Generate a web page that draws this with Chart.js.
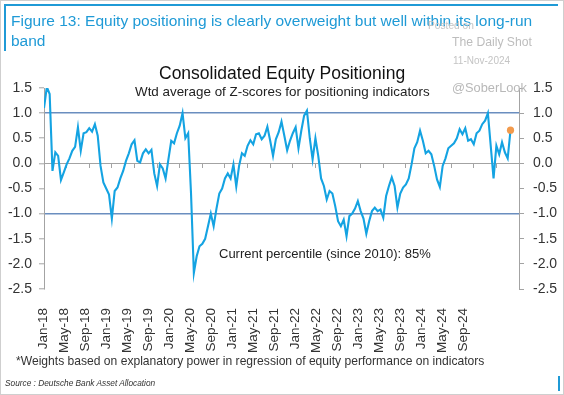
<!DOCTYPE html>
<html>
<head>
<meta charset="utf-8">
<script src="https://cdn.jsdelivr.net/npm/chart.js@4.4.1/dist/chart.umd.min.js"></script>
<style>
  body { margin: 0; background: #fff; }
  #wrap { position: relative; width: 564px; height: 395px; overflow: hidden; font-family: "Liberation Sans", Arial, sans-serif; }
  #wrap canvas { position: absolute; left: 0; top: 0; }
  .t { position: absolute; white-space: nowrap; }
  .frame { position: absolute; left: 0; top: 0; width: 564px; height: 395px; box-sizing: border-box; border: 1px solid #cfcfcf; pointer-events: none; }
</style>
</head>
<body>
<div id="wrap">
  <canvas id="chart" width="564" height="395"></canvas>
  <div class="frame"></div>
  <div style="position:absolute;left:5px;top:4px;width:553px;height:2px;background:#1f9ad6"></div>
  <div style="position:absolute;left:4px;top:4px;width:2px;height:47px;background:#1f9ad6"></div>
  <div style="position:absolute;left:558px;top:376px;width:2px;height:15px;background:#1f9ad6"></div>

  <div class="t" style="left:11px;top:11px;font-size:15.5px;line-height:20px;color:#1f9ad6">Figure 13: Equity positioning is clearly overweight but well within its long-run<br>band</div>

  <div class="t" style="left:428px;top:20px;font-size:10.2px;color:#c4c4c4">Posted on</div>
  <div class="t" style="left:452px;top:35px;font-size:12.2px;color:#bdbdbd">The Daily Shot</div>
  <div class="t" style="left:453px;top:55px;font-size:10px;color:#c4c4c4">11-Nov-2024</div>
  <div class="t" style="left:452px;top:80px;font-size:12.8px;color:#b8b8b8">@SoberLook</div>

  <div class="t" style="left:159px;top:63px;font-size:17.5px;line-height:20px;color:#111">Consolidated Equity Positioning</div>
  <div class="t" style="left:135px;top:84px;font-size:13.4px;line-height:16px;color:#222">Wtd average of Z-scores for positioning indicators</div>
  <div class="t" style="left:219px;top:246px;font-size:13px;line-height:16px;color:#222">Current percentile (since 2010): 85%</div>

  <div class="t" style="left:16px;top:353px;font-size:12.1px;line-height:16px;color:#333">*Weights based on explanatory power in regression of equity performance on indicators</div>
  <div class="t" style="left:5px;top:378px;font-size:8.3px;line-height:10px;font-style:italic;color:#333">Source : Deutsche Bank Asset Allocation</div>
</div>

<script>
// x tick labels, one every 4 months from Jan-18
const tickLabels = ['Jan-18', 'May-18', 'Sep-18', 'Jan-19', 'May-19', 'Sep-19', 'Jan-20', 'May-20', 'Sep-20',
    'Jan-21', 'May-21', 'Sep-21', 'Jan-22', 'May-22', 'Sep-22', 'Jan-23', 'May-23', 'Sep-23',
    'Jan-24', 'May-24', 'Sep-24'];

// consolidated positioning z-score (Jan-18 .. mid Nov-24)
const positioning = [
    1.10, 1.52, 1.38, -0.15, 0.22, 0.15, -0.33, -0.18, -0.02, 0.10, 0.25, 0.33,   // 2018 H1
    0.72, 0.25, 0.60, 0.62, 0.70, 0.63, 0.78, 0.55, -0.05, -0.38, -0.50, -0.62,   // 2018 H2
    -1.10, -0.55, -0.48, -0.30, -0.15, 0.05, 0.20, 0.38, 0.46, 0.05, 0.02, 0.20,  // 2019 H1
    0.28, 0.20, 0.27, -0.20, -0.45, -0.02, -0.10, -0.30, 0.08, 0.45, 0.40, 0.60,  // 2019 H2
    0.75, 1.00, 0.50, 0.60, -0.60, -2.18, -1.85, -1.65, -1.60, -1.50, -1.25, -1.00, // 2020 H1
    -1.25, -0.90, -0.60, -0.50, -0.30, -0.20, -0.30, -0.02, -0.46, -0.05, 0.20, 0.15, // 2020 H2
    0.35, 0.46, 0.38, 0.58, 0.60, 0.48, 0.55, 0.73, 0.45, 0.15, 0.48, 0.62,       // 2021 H1
    0.83, 0.55, 0.26, 0.45, 0.60, 0.72, 0.30, 0.65, 0.95, 1.05, 0.50, 0.08,       // 2021 H2
    0.50, 0.15, -0.30, -0.45, -0.72, -0.55, -0.60, -0.85, -1.15, -1.25, -1.12, -1.45, // 2022 H1
    -1.05, -1.00, -0.90, -0.75, -0.95, -1.10, -1.40, -1.15, -0.95, -0.88, -0.95, -0.92, // 2022 H2
    -1.08, -0.65, -0.45, -0.28, -0.45, -0.88, -0.60, -0.48, -0.42, -0.30, -0.02, 0.30, // 2023 H1
    0.42, 0.65, 0.45, 0.20, 0.25, 0.18, -0.05, -0.32, -0.47, -0.05, 0.10, 0.30,   // 2023 H2
    0.35, 0.40, 0.50, 0.68, 0.58, 0.70, 0.45, 0.48, 0.38, 0.60, 0.65, 0.78,       // 2024 H1
    0.85, 1.00, 0.35, -0.30, 0.35, 0.18, 0.42, 0.22, 0.10, 0.66                   // 2024 H2
];

const axisGrey = '#a3a3a3';
const labelFont = { family: '"Liberation Sans", Arial, sans-serif', size: 14 };
const lastIdx = positioning.length - 1;

new Chart(document.getElementById('chart'), {
    type: 'line',
    data: {
        datasets: [{
            data: positioning.map((v, i) => ({ x: i, y: v })),
            borderColor: '#14a3e2',
            borderWidth: 2.1,
            tension: 0,
            pointRadius: ctx => ctx.dataIndex === lastIdx ? 3.6 : 0,
            pointBackgroundColor: '#f29a4c',
            pointBorderWidth: 0
        }]
    },
    options: {
        responsive: false,
        animation: false,
        layout: { padding: { top: 88, left: 0, right: 0, bottom: 0 } },
        plugins: { legend: { display: false }, tooltip: { enabled: false } },
        scales: {
            // time axis in half-months from Jan-18 to Jan-25
            x: { type: 'linear', min: 0, max: 168, display: false },
            // the date labels sit on their own, a bit tighter than the tick marks (as in the source chart)
            xl: {
                type: 'linear', axis: 'x', min: 1 / 21, max: 1 / 21 + 475 / 21, position: 'bottom',
                afterFit: s => { s.height = 106; },
                afterBuildTicks: s => { s.ticks = tickLabels.map((_, k) => ({ value: k })); },
                grid: { display: false },
                border: { display: false },
                ticks: {
                    autoSkip: false, maxRotation: 90, minRotation: 90, padding: 11,
                    font: { family: labelFont.family, size: 13.5 }, color: '#333',
                    callback: v => tickLabels[Math.round(v)] || ''
                }
            },
            // zero line with its small tick marks
            x0: {
                type: 'linear', axis: 'x', min: 0, max: 168, position: { y: 0 },
                grid: { drawOnChartArea: false, tickLength: 4, color: axisGrey },
                border: { color: axisGrey, width: 1 },
                ticks: { stepSize: 8, display: false }
            },
            y: {
                min: -2.5, max: 1.5, position: 'left',
                afterFit: s => { s.width = 44; },
                grid: {
                    color: ctx => (ctx.tick && Math.abs(Math.abs(ctx.tick.value) - 1) < 1e-9) ? '#6a8ebf' : 'rgba(0,0,0,0)',
                    lineWidth: 1.6,
                    tickColor: axisGrey, tickLength: 5, tickWidth: 1
                },
                border: { color: axisGrey },
                ticks: { stepSize: 0.5, padding: 7, font: labelFont, color: '#333', callback: v => v.toFixed(1) }
            },
            y2: {
                min: -2.5, max: 1.5, position: 'right',
                afterFit: s => { s.width = 45; },
                grid: { drawOnChartArea: false, color: axisGrey, tickLength: 5 },
                border: { color: axisGrey },
                ticks: { stepSize: 0.5, padding: 9, font: labelFont, color: '#333', callback: v => v.toFixed(1) }
            }
        }
    }
});
</script>
</body>
</html>
